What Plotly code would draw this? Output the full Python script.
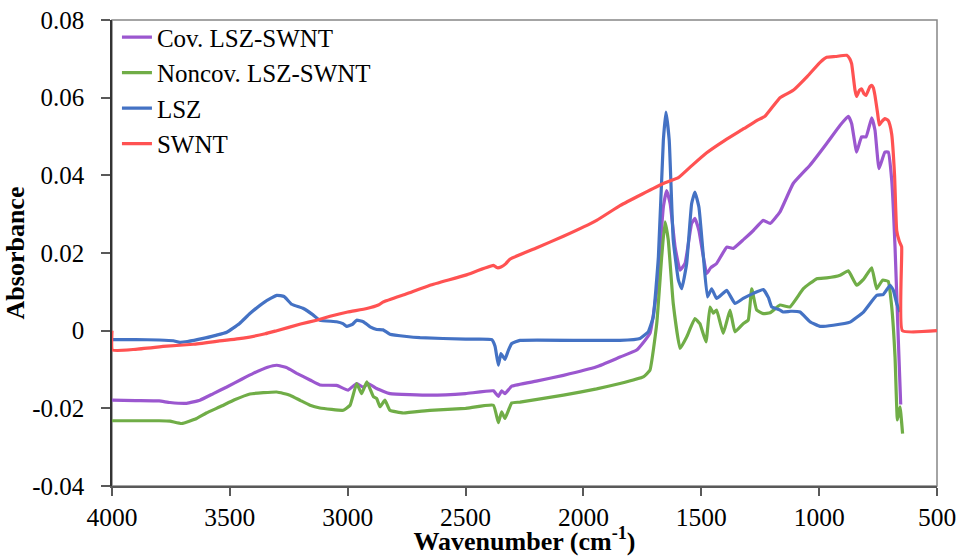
import plotly.graph_objects as go

# ---------------- data ----------------
swnt_x = [4000, 3998, 3900, 3768, 3655, 3550, 3443, 3350, 3301, 3200, 3132, 3075, 3000, 2919, 2870, 2849,
          2750, 2651, 2500, 2382, 2365, 2350, 2330, 2312, 2200, 2085, 1944, 1845, 1750, 1661, 1597, 1540,
          1477, 1400, 1320, 1265, 1230, 1166, 1110, 1050, 996, 968, 930, 883, 870, 862, 848, 841, 830, 820,
          810, 801, 785, 777, 770, 763, 752, 745, 735, 721, 707, 700, 692, 680, 671, 660, 650, 647, 500]
swnt_y = [0.0, -0.0050, -0.0048, -0.0040, -0.0035, -0.0027, -0.0019, -0.0008, 0.0000, 0.0017, 0.0027, 0.0037,
          0.0048, 0.0057, 0.0066, 0.0074, 0.0095, 0.0117, 0.0143, 0.0168, 0.0162, 0.0164, 0.0172, 0.0184,
          0.0213, 0.0243, 0.0284, 0.0322, 0.0352, 0.0379, 0.0394, 0.0425, 0.0458, 0.0490, 0.0520, 0.0541,
          0.0552, 0.0600, 0.0619, 0.0655, 0.0691, 0.0704, 0.0706, 0.0709, 0.0700, 0.0687, 0.0620, 0.0603,
          0.0618, 0.0623, 0.0610, 0.0606, 0.0628, 0.0632, 0.0625, 0.0605, 0.0560, 0.0530, 0.0538, 0.0546,
          0.0541, 0.0530, 0.0505, 0.0400, 0.0258, 0.0230, 0.0216, 0.0, 0.0]

lsz_x = [4000, 3900, 3800, 3740, 3712, 3680, 3613, 3560, 3513, 3460, 3415, 3350, 3301, 3270, 3238, 3188,
         3150, 3118, 3047, 3020, 3004, 2980, 2962, 2934, 2905, 2877, 2850, 2821, 2750, 2693, 2500, 2389,
         2375, 2361, 2350, 2340, 2333, 2318, 2304, 2269, 2000, 1845, 1760, 1725, 1704, 1682, 1661, 1650,
         1636, 1619, 1597, 1583, 1562, 1541, 1527, 1510, 1491, 1474, 1456, 1435, 1410, 1392, 1357, 1322,
         1279, 1237, 1215, 1201, 1166, 1152, 1120, 1081, 1039, 996, 940, 869, 812, 756, 728, 699, 685,
         671, 657]
lsz_y = [-0.0023, -0.0023, -0.0024, -0.0026, -0.0030, -0.0028, -0.0020, -0.0012, -0.0004, 0.0018, 0.0044,
         0.0075, 0.0091, 0.0088, 0.0068, 0.0057, 0.0042, 0.0027, 0.0023, 0.0018, 0.0011, 0.0016, 0.0027,
         0.0023, 0.0010, 0.0003, 0.0002, -0.0009, -0.0015, -0.0018, -0.0022, -0.0023, -0.0040, -0.0089,
         -0.0059, -0.0068, -0.0074, -0.0050, -0.0033, -0.0025, -0.0025, -0.0025, -0.0020, -0.0003, 0.0035,
         0.0190, 0.0490, 0.0563, 0.0490, 0.0233, 0.0130, 0.0108, 0.0173, 0.0327, 0.0357, 0.0318, 0.0190,
         0.0087, 0.0108, 0.0083, 0.0095, 0.0104, 0.0070, 0.0083, 0.0096, 0.0106, 0.0085, 0.0061, 0.0053,
         0.0048, 0.0050, 0.0048, 0.0023, 0.0011, 0.0014, 0.0022, 0.0048, 0.0091, 0.0093, 0.0117, 0.0104,
         0.0070, 0.0048]

cov_x = [4000, 3900, 3800, 3754, 3683, 3627, 3570, 3513, 3450, 3401, 3340, 3301, 3260, 3216, 3160, 3118,
         3047, 2998, 2962, 2934, 2913, 2877, 2821, 2651, 2500, 2382, 2361, 2347, 2333, 2304, 2200, 2085,
         1944, 1845, 1774, 1718, 1689, 1661, 1647, 1632, 1611, 1590, 1569, 1541, 1527, 1510, 1477, 1460,
         1435, 1392, 1364, 1320, 1279, 1237, 1208, 1166, 1110, 1039, 968, 911, 876, 862, 841, 820, 801,
         777, 763, 746, 721, 707, 692, 678, 664, 654]
cov_y = [-0.0179, -0.0180, -0.0181, -0.0185, -0.0187, -0.0179, -0.0162, -0.0145, -0.0125, -0.0110, -0.0094,
         -0.0089, -0.0095, -0.0110, -0.0127, -0.0140, -0.0141, -0.0153, -0.0136, -0.0146, -0.0136, -0.0149,
         -0.0162, -0.0166, -0.0162, -0.0155, -0.0169, -0.0155, -0.0162, -0.0143, -0.0130, -0.0115, -0.0093,
         -0.0068, -0.0050, -0.0007, 0.0104, 0.0318, 0.0361, 0.0327, 0.0215, 0.0156, 0.0173, 0.0276, 0.0289,
         0.0258, 0.0147, 0.0162, 0.0173, 0.0215, 0.0212, 0.0235, 0.0258, 0.0284, 0.0276, 0.0306, 0.0379,
         0.0426, 0.0482, 0.0529, 0.0552, 0.0533, 0.0460, 0.0499, 0.0499, 0.0548, 0.0516, 0.0417, 0.0460,
         0.0460, 0.0387, 0.0215, -0.0025, -0.0190]

noncov_x = [4000, 3900, 3800, 3754, 3704, 3641, 3600, 3542, 3480, 3415, 3301, 3245, 3200, 3160, 3118, 3019,
            2990, 2962, 2941, 2919, 2891, 2877, 2863, 2842, 2821, 2764, 2651, 2500, 2382, 2361, 2347, 2333,
            2304, 2269, 2085, 1944, 1845, 1746, 1718, 1689, 1668, 1654, 1640, 1619, 1590, 1562, 1527, 1506,
            1480, 1463, 1449, 1435, 1407, 1378, 1357, 1322, 1301, 1286, 1265, 1237, 1208, 1166, 1124, 1067,
            1010, 968, 911, 876, 841, 812, 777, 756, 731, 707, 692, 678, 668, 657, 646]
noncov_y = [-0.0232, -0.0232, -0.0232, -0.0233, -0.0239, -0.0226, -0.0212, -0.0196, -0.0178, -0.0163, -0.0158,
            -0.0166, -0.0180, -0.0192, -0.0199, -0.0205, -0.0192, -0.0136, -0.0162, -0.0132, -0.0170, -0.0175,
            -0.0196, -0.0179, -0.0205, -0.0212, -0.0205, -0.0200, -0.0192, -0.0237, -0.0209, -0.0226, -0.0186,
            -0.0184, -0.0166, -0.0150, -0.0136, -0.0119, -0.0102, 0.0018, 0.0190, 0.0280, 0.0233, 0.0070,
            -0.0046, -0.0016, 0.0031, 0.0018, -0.0029, 0.0061, 0.0045, 0.0053, -0.0007, 0.0053, -0.0003,
            0.0018, 0.0027, 0.0108, 0.0053, 0.0044, 0.0046, 0.0066, 0.0061, 0.0108, 0.0134, 0.0136, 0.0143,
            0.0154, 0.0117, 0.0132, 0.0162, 0.0108, 0.0130, 0.0127, 0.0061, -0.0068, -0.0230, -0.0196, -0.0265]

y_ticks = [-0.04, -0.02, 0, 0.02, 0.04, 0.06, 0.08]
y_tick_text = ["-0.04", "-0.02", "0", "0.02", "0.04", "0.06", "0.08"]
x_ticks = [4000, 3500, 3000, 2500, 2000, 1500, 1000, 500]
x_tick_text = ["4000", "3500", "3000", "2500", "2000", "1500", "1000", "500"]

series = [
    ("Cov. LSZ-SWNT", cov_x, cov_y, "#9B57CF"),
    ("Noncov. LSZ-SWNT", noncov_x, noncov_y, "#70AD47"),
    ("LSZ", lsz_x, lsz_y, "#4472C4"),
    ("SWNT", swnt_x, swnt_y, "#FF5252"),
]

FONT = "Times New Roman"

fig = go.Figure()
for rank, (name, xs, ys, col) in enumerate(series):
    fig.add_trace(go.Scatter(x=xs, y=ys, mode="lines", name=name,
                             line=dict(color=col, width=3.2, shape="spline", smoothing=0.35),
                             legendrank=rank + 1))

fig.update_layout(
    width=959, height=556,
    margin=dict(l=112, r=22, t=20, b=70),
    paper_bgcolor="white", plot_bgcolor="white",
    font=dict(family=FONT, size=26, color="black"),
    showlegend=True,
    legend=dict(x=0.006, y=1.012, xanchor="left", yanchor="top",
                bgcolor="rgba(0,0,0,0)", font=dict(size=25, family=FONT, color="black"),
                itemwidth=30, tracegroupgap=0),
    xaxis=dict(range=[4000, 500], tickmode="array", tickvals=x_ticks, ticktext=x_tick_text,
               showgrid=False, zeroline=False, automargin=False,
               showline=True, linecolor="#595959", linewidth=1.5,
               ticks="outside", ticklen=8, tickcolor="#595959", tickwidth=1.5,
               tickfont=dict(size=25.5, family=FONT, color="black"), ticklabelstandoff=0,
               title=dict(text="<b>Wavenumber (cm<sup>-1</sup>)</b>", font=dict(size=26, family=FONT),
                          standoff=5)),
    yaxis=dict(range=[-0.04, 0.08], tickmode="array", tickvals=y_ticks, ticktext=y_tick_text,
               showgrid=False, zeroline=False, showline=True, linecolor="#333333", linewidth=1.5,
               automargin=False, ticks="outside", ticklen=9, tickcolor="#595959", tickwidth=1.5,
               tickfont=dict(size=25, family=FONT, color="black"), ticklabelstandoff=12,
               title=dict(text="<b>Absorbance</b>", font=dict(size=26, family=FONT), standoff=0)),
    shapes=[dict(type="rect", xref="paper", yref="paper", x0=0, y0=0, x1=1, y1=1,
                 line=dict(color="#868686", width=1.5), layer="below")],
)

fig.write_html("out.html")
